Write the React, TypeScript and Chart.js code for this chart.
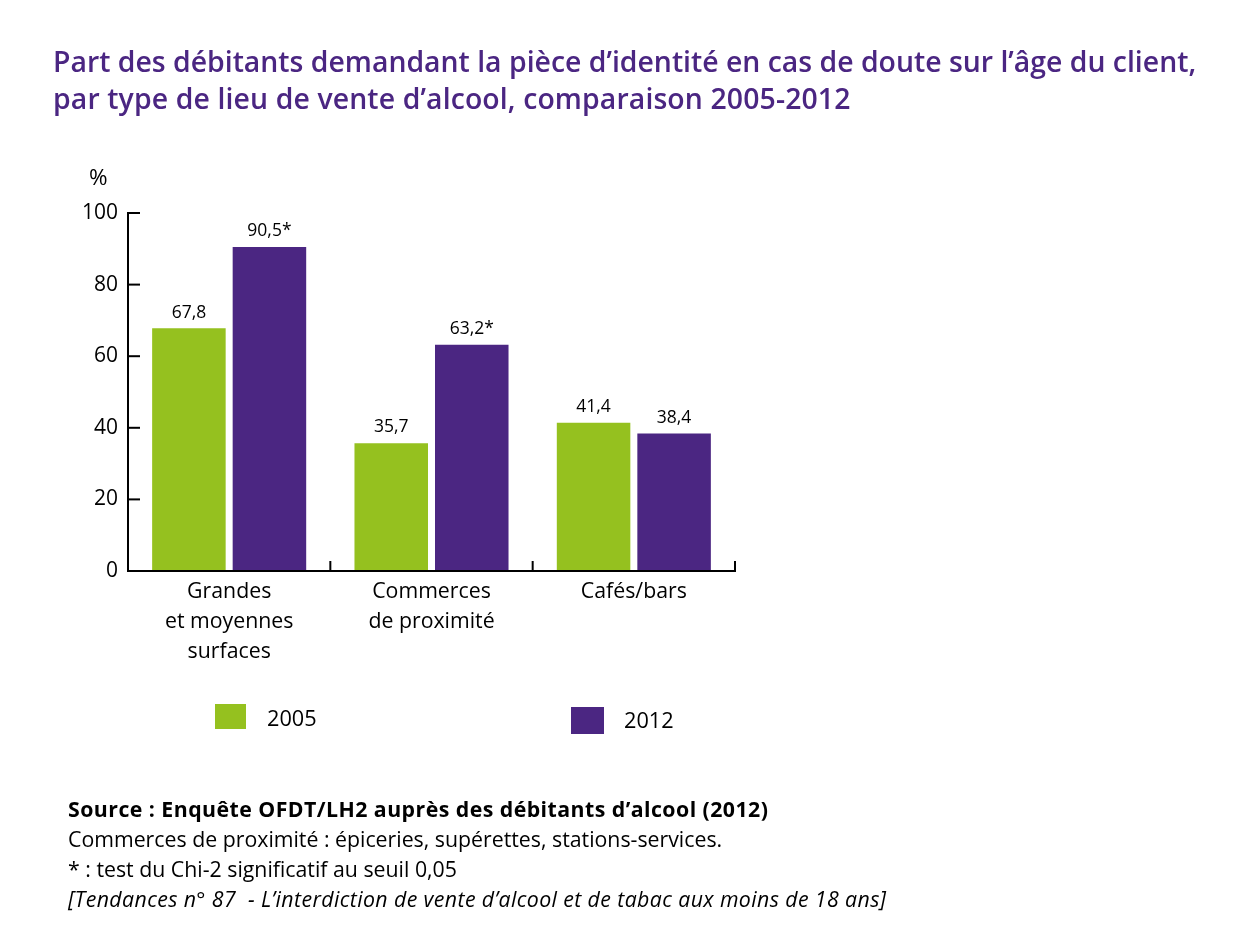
import React, { useEffect, useRef } from "react";
import { Chart, registerables } from "chart.js";

Chart.register(...registerables);

const categories: string[][] = [
  ["Grandes", "et moyennes", "surfaces"],
  ["Commerces", "de proximité"],
  ["Cafés/bars"],
];
const values2005: number[] = [67.8, 35.7, 41.4];
const values2012: number[] = [90.5, 63.2, 38.4];
const significant2005: boolean[] = [false, false, false];
const significant2012: boolean[] = [true, true, false];
const yTicks: number[] = [0, 20, 40, 60, 80, 100];
const seriesNames: string[] = ["2005", "2012"];

const GREEN = "#95c11f";
const PURPLE = "#4b2682";
const FONT = "'Open Sans', 'Noto Sans', sans-serif";

const fmt = (v: number, sig: boolean) =>
  v.toFixed(1).replace(".", ",") + (sig ? "*" : "");

export default function App() {
  const ref = useRef<HTMLCanvasElement | null>(null);

  useEffect(() => {
    if (!ref.current) return;
    const sigs = [significant2005, significant2012];
    const customDraw = {
      id: "customDraw",
      afterDatasetsDraw(chart: any) {
        const ctx = chart.ctx;
        const y = chart.scales.y;
        const ca = chart.chartArea;
        ctx.save();
        ctx.strokeStyle = "#000";
        ctx.lineWidth = 2;
        ctx.beginPath();
        ctx.moveTo(ca.left, y.getPixelForValue(100) - 1);
        ctx.lineTo(ca.left, y.getPixelForValue(0));
        ctx.stroke();
        yTicks.forEach((t) => {
          const py = y.getPixelForValue(t);
          ctx.beginPath();
          ctx.moveTo(ca.left, py);
          ctx.lineTo(ca.left + 12, py);
          ctx.stroke();
        });
        ctx.beginPath();
        ctx.moveTo(ca.left - 1, y.getPixelForValue(0));
        ctx.lineTo(ca.right + 1, y.getPixelForValue(0));
        ctx.stroke();
        const n = categories.length;
        for (let i = 1; i <= n; i++) {
          const px = ca.left + ((ca.right - ca.left) * i) / n;
          ctx.beginPath();
          ctx.moveTo(px, y.getPixelForValue(0));
          ctx.lineTo(px, y.getPixelForValue(0) - 10);
          ctx.stroke();
        }
        ctx.fillStyle = "#000";
        ctx.font = `17.5px ${FONT}`;
        ctx.textAlign = "center";
        ctx.textBaseline = "bottom";
        chart.data.datasets.forEach((ds: any, di: number) => {
          const meta = chart.getDatasetMeta(di);
          meta.data.forEach((bar: any, i: number) => {
            ctx.fillText(fmt(ds.data[i], sigs[di][i]), bar.x, bar.y - 7);
          });
        });
        ctx.restore();
      },
    };

    const chart = new Chart(ref.current, {
      type: "bar",
      data: {
        labels: categories,
        datasets: [
          {
            label: seriesNames[0],
            data: values2005,
            backgroundColor: GREEN,
            categoryPercentage: 0.796,
            barPercentage: 0.913,
          },
          {
            label: seriesNames[1],
            data: values2012,
            backgroundColor: PURPLE,
            categoryPercentage: 0.796,
            barPercentage: 0.913,
          },
        ],
      },
      options: {
        animation: false,
        responsive: false,
        maintainAspectRatio: false,
        layout: { padding: { left: 78, right: 525, top: 213, bottom: 278 } },
        plugins: {
          legend: { display: false },
          tooltip: { enabled: false },
        },
        scales: {
          x: {
            grid: { display: false, drawTicks: false },
            border: { display: false },
            ticks: {
              color: "#000",
              font: { family: FONT, size: 21.3, lineHeight: 1.41 },
              padding: 6,
              maxRotation: 0,
              autoSkip: false,
            },
            afterFit: (s: any) => {
              s.height = 100;
            },
          },
          y: {
            min: 0,
            max: 100,
            afterBuildTicks: (s: any) => {
              s.ticks = yTicks.map((v) => ({ value: v }));
            },
            grid: { display: false, drawTicks: false },
            border: { display: false },
            ticks: {
              color: "#000",
              font: { family: FONT, size: 21 },
              padding: 10,
            },
            afterFit: (s: any) => {
              s.width = 50;
            },
          },
        },
      },
      plugins: [customDraw],
    });
    return () => chart.destroy();
  }, []);

  const abs = (o: React.CSSProperties): React.CSSProperties => ({
    position: "absolute",
    margin: 0,
    fontFamily: FONT,
    whiteSpace: "nowrap",
    ...o,
  });

  return (
    <div
      style={{
        position: "absolute",
        left: 0,
        top: 0,
        width: 1260,
        height: 949,
        background: "#fff",
        overflow: "hidden",
      }}
    >
      <canvas
        ref={ref}
        width={1260}
        height={949}
        style={{ position: "absolute", left: 0, top: 0, width: 1260, height: 949 }}
      />
      <div
        style={abs({
          left: 53,
          top: 43,
          color: PURPLE,
          fontSize: 28.4,
          fontWeight: 600,
          lineHeight: "37px",
        })}
      >
        Part des débitants demandant la pièce d’identité en cas de doute sur l’âge du client,
        <br />
        <span style={{ letterSpacing: "0.12px" }}>
          par type de lieu de vente d’alcool, comparaison 2005-2012
        </span>
      </div>
      <div style={abs({ left: 89, top: 161, fontSize: 22.5, color: "#000" })}>%</div>
      <div style={abs({ left: 215, top: 704, width: 31, height: 25, background: GREEN })} />
      <div style={abs({ left: 267, top: 703, fontSize: 21.7, lineHeight: "30px", color: "#000" })}>
        {seriesNames[0]}
      </div>
      <div style={abs({ left: 571, top: 707, width: 33, height: 27, background: PURPLE })} />
      <div style={abs({ left: 624, top: 705, fontSize: 21.7, lineHeight: "30px", color: "#000" })}>
        {seriesNames[1]}
      </div>
      <div
        style={abs({
          left: 68,
          top: 794,
          fontSize: 21.3,
          lineHeight: "30px",
          color: "#000",
        })}
      >
        <div style={{ fontWeight: 700, letterSpacing: "0.45px" }}>
          Source : Enquête OFDT/LH2 auprès des débitants d’alcool (2012)
        </div>
        <div>Commerces de proximité : épiceries, supérettes, stations-services.</div>
        <div>* : test du Chi-2 significatif au seuil 0,05</div>
        <div style={{ fontStyle: "italic", letterSpacing: "0.4px" }}>
          [Tendances n° 87&nbsp; - L’interdiction de vente d’alcool et de tabac aux moins de 18 ans]
        </div>
      </div>
    </div>
  );
}
